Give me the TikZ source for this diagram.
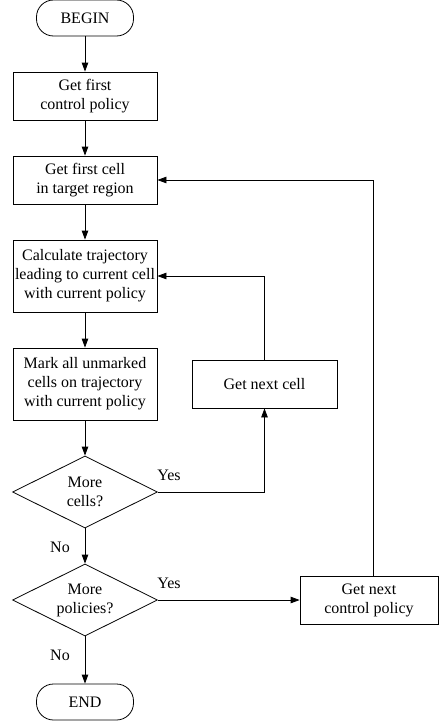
\documentclass[tikz,border=0pt]{standalone}
\usepackage{fontspec}
\setmainfont{Liberation Serif}
\usetikzlibrary{arrows.meta,shapes.geometric}
\begin{document}
\begin{tikzpicture}[x=1pt,y=-1pt,
  every node/.style={font=\fontsize{16}{19}\selectfont, align=center, inner sep=0pt},
  proc/.style={draw, line width=0.8pt, minimum width=144pt},
  term/.style={draw, line width=0.8pt, rounded corners=17pt, minimum width=97pt, minimum height=36pt},
  dec/.style={draw, line width=0.8pt, diamond, aspect=2, minimum width=145pt, minimum height=72pt},
  conn/.style={line width=0.8pt, -{Triangle[length=9pt,width=6.5pt]}},
  lbl/.style={font=\fontsize{16}{19}\selectfont}]
\useasboundingbox (0,0) rectangle (439,723);
\node[term] (begin) at (85,18) {BEGIN};
\node[proc, minimum height=48pt] (b1) at (85,96) {Get first\\control policy};
\node[proc, minimum height=48pt] (b2) at (85,180) {Get first cell\\in target region};
\node[proc, minimum height=72pt] (b3) at (85,276) {Calculate trajectory\\leading to current cell\\with current policy};
\node[proc, minimum height=72pt] (b4) at (85,384) {Mark all unmarked\\cells on trajectory\\with current policy};
\node[proc, minimum width=145pt, minimum height=48pt] (nc) at (264.5,384) {Get next cell};
\node[dec] (d1) at (85,492) {More\\cells?};
\node[dec] (d2) at (85,600) {More\\policies?};
\node[proc, minimum width=138pt, minimum height=48pt] (np) at (369,600) {Get next\\control policy};
\node[term] (end) at (85,702) {END};
\coordinate (c1) at (nc.south |- d1.east);
\coordinate (c2) at (nc.north |- b3.east);
\coordinate (c3) at (373,576);
\coordinate (c4) at (c3 |- b2.east);
\draw[conn] (begin) -- (b1);
\draw[conn] (b1) -- (b2);
\draw[conn] (b2) -- (b3);
\draw[conn] (b3) -- (b4);
\draw[conn] (b4) -- (d1);
\draw[conn] (d1) -- (d2);
\draw[conn] (d2) -- (end);
\draw[conn] (d1.east) -- (c1) -- (nc.south);
\draw[conn] (nc.north) -- (c2) -- (b3.east);
\draw[conn] (d2.east) -- (np.west);
\draw[conn] (c3) -- (c4) -- (b2.east);
\node[lbl] (y1) at (169,475) {Yes};
\node[lbl] (y2) at (169,583) {Yes};
\node[lbl] (n1) at (60,547) {No};
\node[lbl] (n2) at (60,655) {No};
\end{tikzpicture}
\end{document}
